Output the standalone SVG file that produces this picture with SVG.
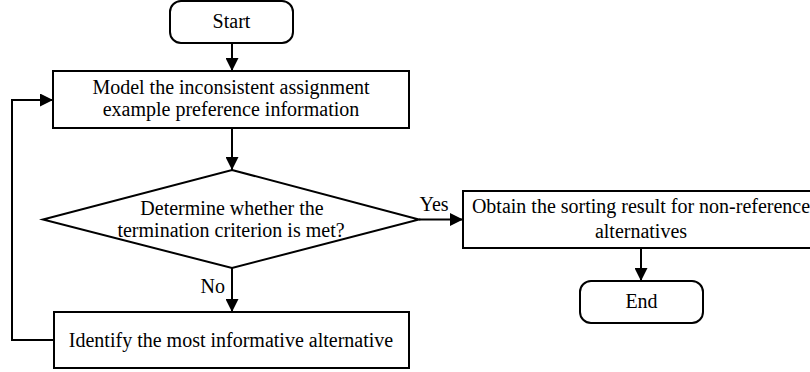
<svg xmlns="http://www.w3.org/2000/svg" width="810" height="372" viewBox="0 0 810 372">
<defs>
<marker id="arr" viewBox="0 0 13 13" refX="13" refY="6.5" markerWidth="13" markerHeight="13" markerUnits="userSpaceOnUse" orient="auto">
<path d="M0,0 L13,6.5 L0,13 Z" fill="#000"/>
</marker>
</defs>
<style>
.shape{fill:#fff;stroke:#000;stroke-width:2}
.conn{fill:none;stroke:#000;stroke-width:2;marker-end:url(#arr)}
text{font-family:"Liberation Serif","Times New Roman",serif;font-size:20px;fill:#000}
.c{text-anchor:middle}
</style>
<rect width="810" height="372" fill="#fff"/>
<g id="connectors">
<line class="conn" x1="232" y1="43" x2="232" y2="71"/>
<line class="conn" x1="232" y1="128" x2="232" y2="170"/>
<line class="conn" x1="232" y1="268" x2="232" y2="312"/>
<line class="conn" x1="419" y1="219.5" x2="463" y2="219.5"/>
<line class="conn" x1="641" y1="248" x2="641" y2="281"/>
<polyline class="conn" points="54,340 12,340 12,100 53,100"/>
<text x="225" y="293" text-anchor="end">No</text>
<text x="419.5" y="210.5">Yes</text>
</g>
<g id="start">
<rect class="shape" x="170" y="1" width="123" height="42" rx="11"/>
<text class="c" x="231.5" y="28">Start</text>
</g>
<g id="model">
<rect class="shape" x="53" y="71" width="356" height="57"/>
<text class="c" x="231" y="93.5">Model the inconsistent assignment</text>
<text class="c" x="231" y="116">example preference information</text>
</g>
<g id="decision">
<polygon class="shape" points="232,170 419,219.5 232,268 43,219.5"/>
<text class="c" x="232" y="215">Determine whether the</text>
<text class="c" x="231" y="237">termination criterion is met?</text>
</g>
<g id="identify">
<rect class="shape" x="54" y="312" width="355" height="56"/>
<text class="c" x="231" y="347">Identify the most informative alternative</text>
</g>
<g id="obtain">
<rect class="shape" x="463" y="191" width="356" height="57"/>
<text class="c" x="641" y="213">Obtain the sorting result for non-reference</text>
<text class="c" x="641" y="238">alternatives</text>
</g>
<g id="end">
<rect class="shape" x="580" y="281" width="123" height="42" rx="11"/>
<text class="c" x="641.5" y="308">End</text>
</g>
</svg>
